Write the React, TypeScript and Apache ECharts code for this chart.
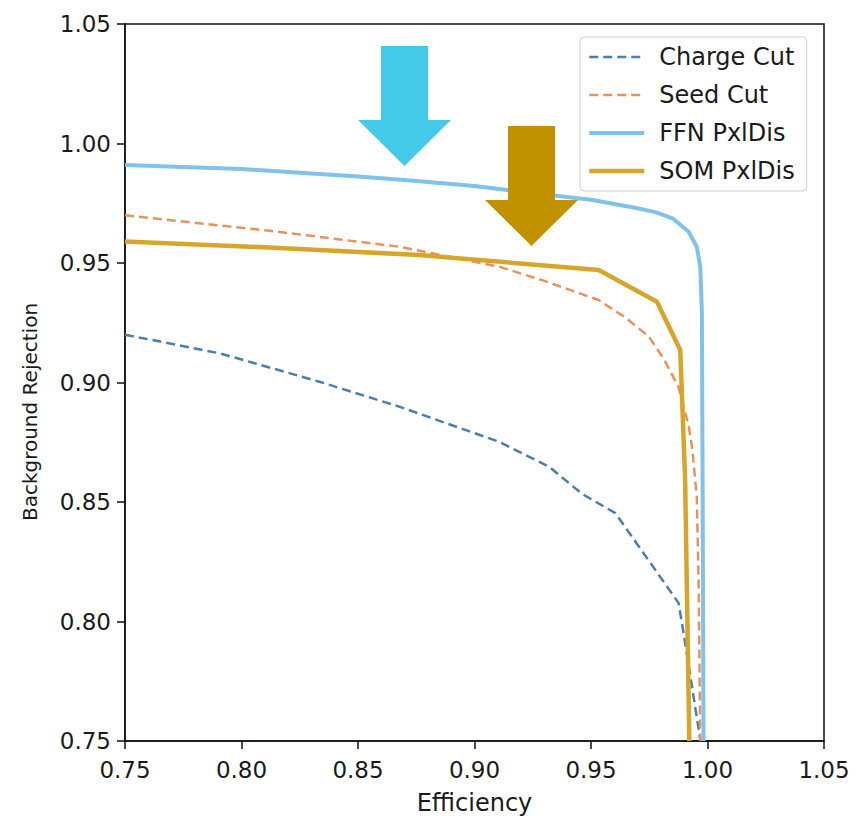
import React, { useEffect, useRef } from "react";
import * as echarts from "echarts";

// ---- data ----
const xTicks = [0.75, 0.8, 0.85, 0.9, 0.95, 1.0, 1.05];
const yTicks = [0.75, 0.8, 0.85, 0.9, 0.95, 1.0, 1.05];

const chargeCutX = [0.75, 0.7907, 0.8335, 0.8677, 0.9105, 0.932, 0.946, 0.9605, 0.9876, 0.990, 0.997];
const chargeCutY = [0.920, 0.9122, 0.9003, 0.8899, 0.8752, 0.8648, 0.8535, 0.8453, 0.8077, 0.7935, 0.75];

const seedCutX = [0.75, 0.812, 0.8677, 0.9105, 0.93, 0.9533, 0.965, 0.9748, 0.9812, 0.9876, 0.9919, 0.9935, 0.9954, 0.9962, 0.9969];
const seedCutY = [0.970, 0.9635, 0.9568, 0.9485, 0.9425, 0.9345, 0.927, 0.9192, 0.910, 0.898, 0.882, 0.872, 0.852, 0.816, 0.75];

const ffnX = [0.75, 0.80, 0.85, 0.87, 0.90, 0.914, 0.95, 0.97, 0.978, 0.985, 0.9919, 0.9954, 0.9969, 0.9976, 0.9979, 0.9983];
const ffnY = [0.991, 0.9893, 0.9862, 0.9847, 0.9822, 0.9805, 0.9765, 0.9729, 0.9712, 0.9687, 0.9631, 0.9568, 0.9484, 0.929, 0.859, 0.75];

const somX = [0.75, 0.812, 0.8763, 0.9533, 0.9783, 0.9883, 0.9904, 0.9922];
const somY = [0.959, 0.9565, 0.9533, 0.9471, 0.9338, 0.9136, 0.8592, 0.75];

const seriesNames = ["Charge Cut", "Seed Cut", "FFN PxlDis", "SOM PxlDis"];
const seriesColors = ["#4a7fad", "#ea925b", "#80c2ec", "#d6a52a"];
const seriesWidths = [2.5, 2.5, 4, 4.5];

const zip = (xs: number[], ys: number[]) => xs.map((x, i) => [x, ys[i]]);

export default function App() {
  const ref = useRef<HTMLDivElement>(null);

  useEffect(() => {
    if (!ref.current) return;
    const chart = echarts.init(ref.current, undefined, { renderer: "svg" });
    const font = "DejaVu Sans";
    const axisCommon = {
      type: "value" as const,
      min: 0.75,
      max: 1.05,
      interval: 0.05,
      axisLine: { show: true, onZero: false, lineStyle: { color: "#111", width: 1.5 } },
      axisTick: { show: true, inside: false, length: 8, lineStyle: { color: "#111", width: 1.5 } },
      splitLine: { show: false },
      axisLabel: {
        color: "#1a1a1a",
        fontFamily: font,
        fontSize: 23,
        formatter: (v: number) => v.toFixed(2),
      },
    };
    const dataSets = [
      zip(chargeCutX, chargeCutY),
      zip(seedCutX, seedCutY),
      zip(ffnX, ffnY),
      zip(somX, somY),
    ];
    chart.setOption({
      animation: false,
      backgroundColor: "#ffffff",
      grid: {
        left: 125,
        right: 32,
        top: 24,
        bottom: 78,
        outerBoundsMode: "none",
        containLabel: false,
        show: true,
        borderColor: "#111",
        borderWidth: 1.5,
        backgroundColor: "transparent",
      },
      xAxis: {
        ...axisCommon,
        axisLabel: { ...axisCommon.axisLabel, margin: 17, customValues: xTicks },
        name: "Efficiency",
        nameLocation: "middle",
        nameGap: 50,
        nameTextStyle: { fontFamily: font, fontSize: 24, color: "#1a1a1a" },
      },
      yAxis: {
        ...axisCommon,
        axisLabel: { ...axisCommon.axisLabel, margin: 14, customValues: yTicks },
      },
      legend: {
        orient: "vertical",
        left: 580,
        top: 37,
        padding: [8, 12, 8, 7],
        itemWidth: 55,
        itemHeight: 14,
        itemGap: 14,
        backgroundColor: "#ffffff",
        borderColor: "#cfcfcf",
        borderWidth: 1,
        borderRadius: 4,
        data: seriesNames.map((n, i) => ({
          name: n,
          lineStyle: { width: seriesWidths[i], color: seriesColors[i] },
        })),
        itemStyle: { opacity: 0 },
        textStyle: {
          fontFamily: font,
          fontSize: 24,
          color: "#1a1a1a",
          lineHeight: 24,
          padding: [0, 0, 0, 10],
        },
        z: 10,
      },
      series: seriesNames.map((n, i) => ({
        name: n,
        type: "line",
        data: dataSets[i],
        showSymbol: false,
        symbol: "none",
        lineStyle: {
          color: seriesColors[i],
          width: seriesWidths[i],
          type: i < 2 ? [9, 5] : "solid",
        },
        itemStyle: { color: seriesColors[i] },
        z: 2 + i,
      })),
      graphic: [
        {
          type: "text",
          x: 30,
          y: 412,
          rotation: Math.PI / 2,
          style: {
            text: "Background Rejection",
            fontFamily: font,
            fontSize: 20,
            fill: "#1a1a1a",
            align: "center",
            verticalAlign: "middle",
          },
        },
        {
          type: "polygon",
          z: 20,
          shape: {
            points: [
              [381, 46], [428, 46], [428, 120], [451, 120],
              [404.5, 166], [358, 120], [381, 120],
            ],
          },
          style: { fill: "#45c9e8" },
        },
        {
          type: "polygon",
          z: 20,
          shape: {
            points: [
              [508, 126], [555, 126], [555, 200], [578, 200],
              [531.5, 246], [485, 200], [508, 200],
            ],
          },
          style: { fill: "#c29100" },
        },
      ],
    });
    return () => chart.dispose();
  }, []);

  return (
    <div
      ref={ref}
      style={{ position: "fixed", left: 0, top: 0, width: 856, height: 819, background: "#fff" }}
    />
  );
}
